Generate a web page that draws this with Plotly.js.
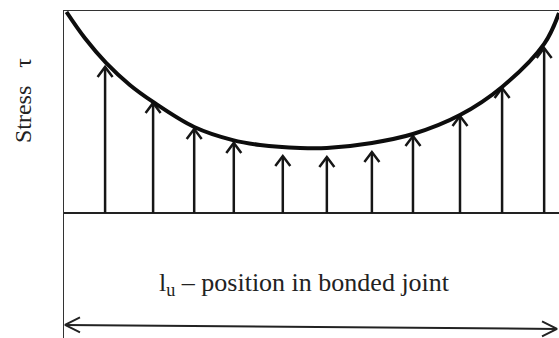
<!DOCTYPE html>
<html>
<head>
<meta charset="utf-8">
<script src="https://cdn.plot.ly/plotly-3.0.1.min.js"></script>
<style>html,body{margin:0;padding:0;background:#fff;}#chart{width:559px;height:338px;}</style>
</head>
<body>
<div id="chart"></div>
<script>
// Stress distribution along the bonded joint (position in % of joint length, stress in relative units)
const curvePosition = [0.5, 4.2, 8.5, 13.3, 18.0, 26.3, 34.1, 39.6, 47.7, 53.1, 62.2, 70.5, 80.0, 88.5, 97.0, 100];
const curveStress   = [99.5, 86.6, 74.3, 63.4, 55.0, 42.6, 36.1, 33.7, 32.2, 32.2, 34.7, 39.1, 48.5, 62.4, 83.7, 99.0];

// Stress arrows
const arrowPosition = [8.3, 18.0, 26.3, 34.3, 44.2, 53.1, 62.2, 70.5, 80.0, 88.5, 97.0];
const arrowStress   = [72.3, 54.5, 41.6, 34.7, 28.2, 27.7, 30.2, 38.1, 48.0, 61.9, 81.7];

// Joint length dimension arrow (start / end position and level)
const dimPosition = [0.2, 99.6];
const dimLevel    = [-55.4, -57.4];

const axisTitleY = 'Stress\u00a0\u00a0\u00a0τ';
const jointLabel = 'l<sub>u</sub> – position in bonded joint';
const labelPos = 48.5, labelLevel = -35.1;

// layout geometry
const W = 559, H = 338;
const M = {l: 64, r: 0, t: 11, b: 0};
const xRange = [0, 100];
const yRange = [-61.88, 100];
const pxX = (W - M.l - M.r) / (xRange[1] - xRange[0]);
const pxY = (H - M.t - M.b) / (yRange[1] - yRange[0]);

const INK = '#161616';
const FONT = 'Liberation Serif, Times New Roman, serif';

// arrows: stems + open chevron heads built from the data
const chHalf = 7.5 / pxX, chLen = 10 / pxY;
const stemX = [], stemY = [], headX = [], headY = [];
arrowPosition.forEach((p, i) => {
  const s = arrowStress[i];
  stemX.push(p, p, null); stemY.push(0, s, null);
  headX.push(p - chHalf, p, p + chHalf, null);
  headY.push(s - chLen, s, s - chLen, null);
});

// dimension arrow heads (horizontal chevrons)
const dLen = 15 / pxX, dHalf = 7.5 / pxY;
const dimX = [dimPosition[0] + dLen, dimPosition[0], dimPosition[0] + dLen, null,
              dimPosition[1] - dLen, dimPosition[1], dimPosition[1] - dLen];
const dimY = [dimLevel[0] + dHalf, dimLevel[0], dimLevel[0] - dHalf, null,
              dimLevel[1] + dHalf, dimLevel[1], dimLevel[1] - dHalf];

const traces = [
  {x: stemX, y: stemY, mode: 'lines', line: {color: INK, width: 2.5}, hoverinfo: 'skip', cliponaxis: false},
  {x: headX, y: headY, mode: 'lines', line: {color: INK, width: 2.5}, hoverinfo: 'skip', cliponaxis: false},
  {x: curvePosition, y: curveStress, mode: 'lines', line: {color: '#0d0d0d', width: 4, shape: 'spline', smoothing: 1}, hoverinfo: 'skip', cliponaxis: false},
  {x: dimPosition, y: dimLevel, mode: 'lines', line: {color: '#222', width: 2}, hoverinfo: 'skip', cliponaxis: false},
  {x: dimX, y: dimY, mode: 'lines', line: {color: '#222', width: 2}, hoverinfo: 'skip', cliponaxis: false}
];

const layout = {
  width: W, height: H,
  margin: M,
  paper_bgcolor: '#fff', plot_bgcolor: '#fff',
  showlegend: false,
  xaxis: {range: xRange, side: 'top', showline: true, linecolor: '#333', linewidth: 1.5,
          showgrid: false, zeroline: false, showticklabels: false, ticks: '', fixedrange: true},
  yaxis: {range: yRange, showline: true, linecolor: '#333', linewidth: 1.5,
          showgrid: false, zeroline: true, zerolinecolor: '#222', zerolinewidth: 2,
          showticklabels: false, ticks: '', fixedrange: true},
  annotations: [
    {xref: 'paper', yref: 'y', x: (23 - M.l) / (W - M.l - M.r), y: 55.4, text: axisTitleY,
     textangle: -90, showarrow: false, xanchor: 'center', yanchor: 'middle',
     font: {family: FONT, size: 24, color: '#222'}},
    {xref: 'x', yref: 'y', x: labelPos, y: labelLevel, text: jointLabel, showarrow: false,
     xanchor: 'center', yanchor: 'middle', font: {family: FONT, size: 26, color: '#222'}}
  ]
};

Plotly.newPlot('chart', traces, layout, {staticPlot: true, displayModeBar: false});
</script>
</body>
</html>
